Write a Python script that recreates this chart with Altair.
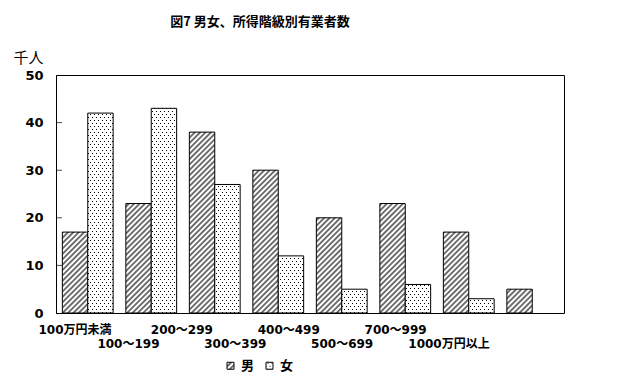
import altair as alt
import pandas as pd
import jinja2

# ---- data ----
categories = ["100万円未満", "100～199", "200～299", "300～399",
              "400～499", "500～699", "700～999", "1000万円以上"]
male = [17, 23, 38, 30, 20, 23, 17, 5]
female = [42, 43, 27, 12, 5, 6, 3, None]
sexes = ["男", "女"]
y_ticks = [0, 10, 20, 30, 40, 50]
inner_ticks = [10, 20, 30, 40]

rows = []
for c, m, f in zip(categories, male, female):
    rows.append({"cat": c, "sex": "男", "v": m})
    if f is not None:
        rows.append({"cat": c, "sex": "女", "v": f})
df = pd.DataFrame(rows)
labels_df = pd.DataFrame({"cat": categories, "idx": list(range(len(categories)))})
labels_df["row"] = labels_df["idx"] % 2
ticks_df = pd.DataFrame({"v": inner_ticks})

FONT = "DejaVu Sans, Noto Sans CJK JP"
CJK = "Noto Sans CJK JP"

y_axis = alt.Axis(values=y_ticks, ticks=False, grid=False, labelPadding=13,
                  labelFont=FONT, labelFontSize=13, labelFontWeight="bold",
                  labelColor="black", domainColor="black",
                  title="千人", titleAngle=0, titleAlign="left",
                  titleBaseline="alphabetic", titleX=-43, titleY=-13,
                  titleFont=CJK, titleFontSize=15, titleFontWeight="normal",
                  titleColor="black")

bars = alt.Chart(df).mark_bar(stroke="black", strokeWidth=1).encode(
    x=alt.X("cat:N", sort=categories,
            scale=alt.Scale(paddingInner=0.2, paddingOuter=0.1), axis=None),
    xOffset=alt.XOffset("sex:N", sort=sexes),
    y=alt.Y("v:Q", scale=alt.Scale(domain=[0, 50], nice=False), axis=y_axis),
    color=alt.Color("sex:N", sort=sexes,
                    scale=alt.Scale(domain=sexes, range=["url(#hatch)", "url(#dots)"]),
                    legend=alt.Legend(title=None, orient="none", legendX=168, legendY=284,
                                      direction="horizontal", symbolType="square",
                                      symbolSize=49, symbolStrokeColor="black",
                                      symbolStrokeWidth=1, labelFont=CJK,
                                      labelFontSize=13, labelFontWeight="bold",
                                      labelColor="black", columnPadding=8, labelOffset=4)),
)

ticks = alt.Chart(ticks_df).mark_tick(color="black", size=6, thickness=1).encode(
    y=alt.Y("v:Q", axis=y_axis),
    x=alt.value(3),
)

lab = alt.Chart(labels_df).mark_text(font=FONT, fontSize=12, fontWeight="bold",
                                     baseline="middle", color="black").encode(
    x=alt.X("idx:Q", scale=alt.Scale(domain=[-0.3556, 9.152], nice=False, zero=False),
            axis=None),
    text="cat:N",
)
lab0 = lab.transform_filter("datum.row == 0").encode(y=alt.value(255))
lab1 = lab.transform_filter("datum.row == 1").encode(y=alt.value(269))

chart = alt.layer(bars, ticks, lab0, lab1).resolve_scale(x="independent").properties(
    width=508, height=238, autosize="none",
    padding={"left": 48, "top": 67, "right": 40, "bottom": 60},
    title=alt.Title("図7  男女、所得階級別有業者数", font=CJK, fontSize=13,
                    fontWeight="bold", anchor="middle", frame="group", dx=-50,
                    offset=8, color="black", baseline="bottom"),
).configure_view(stroke="black", strokeWidth=1)

TEMPLATE = jinja2.Template("""<!DOCTYPE html>
<html>
<head>
  <style>
    #{{ output_div }}.vega-embed { width: 100%; display: flex; }
  </style>
  <script type="text/javascript" src="{{ base_url }}/vega@{{ vega_version }}"></script>
  <script type="text/javascript" src="{{ base_url }}/vega-lite@{{ vegalite_version }}"></script>
  <script type="text/javascript" src="{{ base_url }}/vega-embed@{{ vegaembed_version }}"></script>
</head>
<body>
  <svg width="0" height="0" style="position:absolute">
    <defs>
      <pattern id="hatch" patternUnits="userSpaceOnUse" width="3.8" height="3.8" patternTransform="rotate(45)">
        <rect width="3.8" height="3.8" fill="white"/>
        <line x1="1.9" y1="0" x2="1.9" y2="3.8" stroke="black" stroke-width="1.1"/>
      </pattern>
      <pattern id="dots" patternUnits="userSpaceOnUse" width="4" height="6">
        <rect width="4" height="6" fill="white"/>
        <rect x="0" y="0" width="1" height="1" fill="black"/>
        <rect x="2" y="3" width="1" height="1" fill="black"/>
      </pattern>
    </defs>
  </svg>
  <div id="{{ output_div }}"></div>
  <script>
    (function(vegaEmbed) {
      var spec = {{ spec }};
      var embedOpt = {{ embed_options }};
      function showError(el, error){
        el.innerHTML = ('<div style="color:red;"><p>JavaScript Error: ' + error.message + '</p></div>');
        throw error;
      }
      const el = document.getElementById('{{ output_div }}');
      vegaEmbed("#{{ output_div }}", spec, embedOpt).catch(error => showError(el, error));
    })(vegaEmbed);
  </script>
</body>
</html>""")

chart.save("out.html", embed_options={"renderer": "svg", "actions": False}, template=TEMPLATE)
